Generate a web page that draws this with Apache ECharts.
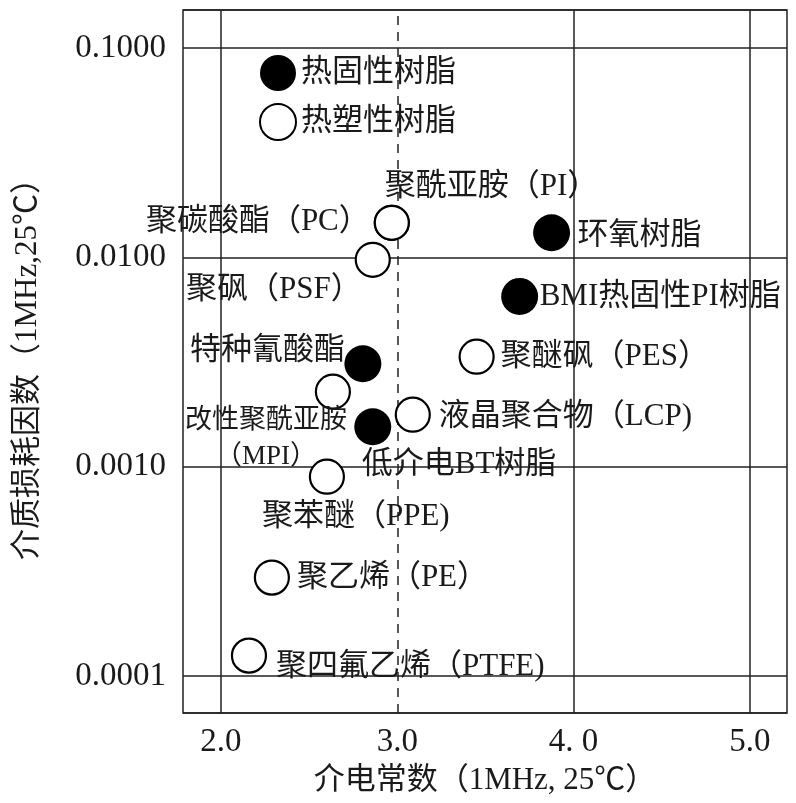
<!DOCTYPE html>
<html><head><meta charset="utf-8">
<script src="https://cdn.jsdelivr.net/npm/echarts@6/dist/echarts.min.js"></script>
<style>html,body{margin:0;padding:0;background:#fff}#c{width:796px;height:803px}</style>
</head><body><div id="c"></div>
<script>
// ---- data ----
const xTickValues = [2, 3, 4, 5];
const xTickLabels = ['2.0', '3.0', '4. 0', '5.0'];
const yTickValues = [0.0001, 0.001, 0.01, 0.1];
const yTickLabels = ['0.0001', '0.0010', '0.0100', '0.1000'];
const seriesNames = ['热固性树脂', '热塑性树脂'];
const thermosetNames = ['环氧树脂', 'BMI热固性PI树脂', '特种氰酸酯', '低介电BT树脂'];
const thermosetDk = [3.875, 3.694, 2.805, 2.861];
const thermosetDf = [0.0131, 0.0065, 0.0031, 0.00155];
const thermoplasticNames = ['聚酰亚胺（PI）', '聚碳酸酯（PC）', '聚砜（PSF）', '聚醚砜（PES）', '改性聚酰亚胺\n（MPI）', '液晶聚合物（LCP)', '聚苯醚（PPE)', '聚乙烯（PE）', '聚四氟乙烯（PTFE)'];
const thermoplasticDk = [2.969, 2.969, 2.861, 3.450, 2.635, 3.088, 2.601, 2.289, 2.159];
const thermoplasticDf = [0.01462, 0.01462, 0.00973, 0.00335, 0.00228, 0.00177, 0.000895, 0.000295, 0.000125];
const xName = '介电常数（1MHz, 25℃）';
const yName = '介质损耗因数（1MHz,25℃）';

// ---- label placement (style, not data) ----
const place = {
  '聚酰亚胺（PI）': ['left', -7, -36],
  '聚碳酸酯（PC）': ['right', -22, -1],
  '聚砜（PSF）': ['right', -11, 30],
  '环氧树脂': ['left', 26, 3],
  'BMI热固性PI树脂': ['left', 20, 0],
  '聚醚砜（PES）': ['left', 24, 0],
  '特种氰酸酯': ['right', -18, -13],
  '改性聚酰亚胺\n（MPI）': ['center', -67, 47],
  '低介电BT树脂': ['left', -11, 38],
  '液晶聚合物（LCP)': ['left', 26, 2],
  '聚苯醚（PPE)': ['left', -65, 40],
  '聚乙烯（PE）': ['left', 25, 0],
  '聚四氟乙烯（PTFE)': ['left', 27, 11]
};
const FONT = '"Liberation Serif", "Noto Sans CJK SC", serif';
const INK = '#1a1a1a';

function items(names, xs, ys) {
  return names.map((n, i) => {
    const p = place[n];
    const lab = {show: true, position: 'inside', align: p[0], verticalAlign: 'middle', offset: [p[1], p[2]], formatter: '{b}'};
    if (n.indexOf('MPI') >= 0) { lab.fontSize = 27; lab.lineHeight = 36; }
    return {name: n, value: [xs[i], ys[i]], label: lab};
  });
}
const labelBase = {color: INK, fontFamily: FONT, fontSize: 31};

const chart = echarts.init(document.getElementById('c'), null, {renderer: 'canvas'});
chart.setOption({
  animation: false,
  backgroundColor: '#fff',
  grid: {left: 183, right: 9, top: 10, bottom: 90, show: true, borderColor: '#222', borderWidth: 1.5, containLabel: false, outerBoundsMode: 'none'},
  legend: {
    data: seriesNames, orient: 'vertical', left: 254, top: 50,
    itemWidth: 36, itemHeight: 36, itemGap: 12, icon: 'circle',
    textStyle: {color: INK, fontFamily: FONT, fontSize: 31},
    selectedMode: false
  },
  xAxis: {
    type: 'value', min: 1.785, max: 5.21, splitNumber: 4,
    name: xName, nameLocation: 'middle', nameGap: 52,
    nameTextStyle: {color: INK, fontFamily: FONT, fontSize: 31},
    axisLine: {show: false}, axisTick: {show: false}, splitLine: {show: false},
    axisLabel: {
      color: INK, fontFamily: FONT, fontSize: 33, margin: 13, showMinLabel: true, showMaxLabel: true,
      formatter: v => { const i = xTickValues.findIndex(t => Math.abs(t - v) < 1e-6); return i >= 0 ? xTickLabels[i] : ''; }
    }
  },
  yAxis: {
    type: 'log', logBase: 10, min: 6.65e-5, max: 0.1519,
    name: yName, nameLocation: 'middle', nameGap: 140, nameRotate: 90,
    nameTextStyle: {color: INK, fontFamily: FONT, fontSize: 31},
    axisLine: {show: false}, axisTick: {show: false},
    splitLine: {show: true, lineStyle: {color: '#222', width: 1.5}},
    axisLabel: {
      color: INK, fontFamily: FONT, fontSize: 33, margin: 17,
      formatter: v => { const i = yTickValues.findIndex(t => Math.abs(Math.log10(t) - Math.log10(v)) < 1e-6); return i >= 0 ? yTickLabels[i] : ''; }
    }
  },
  series: [
    {
      name: seriesNames[0], type: 'scatter', symbol: 'circle', symbolSize: 37, z: 3,
      itemStyle: {color: '#000', opacity: 1},
      label: labelBase,
      data: items(thermosetNames, thermosetDk, thermosetDf),
      markLine: {
        silent: true, z: 1, symbol: ['none', 'none'], label: {show: false},
        lineStyle: {color: '#222', width: 1.5, type: 'solid'},
        data: xTickValues.map(v => ({xAxis: v, lineStyle: {type: v === 3 ? [9, 7] : 'solid', color: '#222', width: 1.5}}))
      }
    },
    {
      name: seriesNames[1], type: 'scatter', symbol: 'circle', symbolSize: 34, z: 3,
      itemStyle: {color: '#fff', borderColor: '#000', borderWidth: 2.2, opacity: 1},
      label: labelBase,
      data: items(thermoplasticNames, thermoplasticDk, thermoplasticDf)
    }
  ]
});
</script></body></html>
